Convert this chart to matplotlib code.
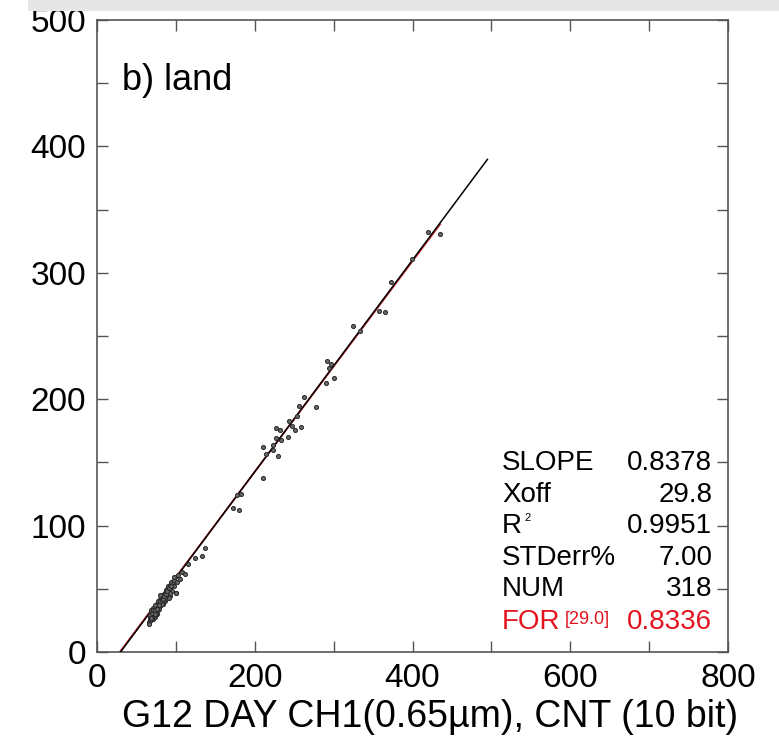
import matplotlib
matplotlib.use("Agg")
import matplotlib.pyplot as plt
from matplotlib.patches import Rectangle
import numpy as np

plt.rcParams['font.family'] = ['Liberation Sans', 'DejaVu Sans']

# ---- data ----
x_pts = [
    # dense cluster
    66, 67, 67, 68, 68, 69, 69, 70, 70, 71, 71, 72, 72, 73, 73, 74, 74, 75, 75, 76,
    76, 76, 77, 77, 78, 78, 79, 79, 80, 80, 81, 81, 82, 82, 83, 83, 84, 84, 85, 85,
    86, 86, 87, 88, 88, 89, 90, 90, 91, 92, 92, 93, 94, 95, 96, 97, 98, 99, 100, 101,
    67, 68, 70, 72, 74, 77, 79, 81, 84, 87, 69, 71, 73, 75, 78, 80, 83, 86, 89, 93,
    66, 68, 70, 71, 73, 74, 76, 78, 80, 82, 84, 85, 87, 89, 91, 94,
    # spread points
    103, 105, 108, 111, 116, 124, 133, 137, 91, 100, 97,
    172, 177, 180, 182, 210, 210, 214, 223, 223, 227, 227, 230, 232, 233, 242, 244,
    247, 251, 253, 256, 259, 263, 278, 290, 292, 294, 297, 301, 324, 334, 358, 365,
    373, 399, 420, 435,
]
y_pts = [
    24, 26, 28, 25, 30, 27, 31, 29, 33, 26, 31, 30, 34, 32, 28, 35, 31, 33, 36, 30,
    35, 38, 37, 33, 39, 36, 40, 35, 38, 42, 40, 37, 43, 39, 41, 45, 38, 44, 42, 46,
    40, 47, 44, 48, 42, 50, 46, 52, 49, 53, 44, 51, 55, 48, 54, 57, 52, 59, 47, 55,
    29, 32, 27, 35, 29, 40, 38, 44, 41, 49, 33, 35, 37, 31, 34, 45, 38, 43, 46, 47,
    22, 27, 31, 33, 30, 33, 34, 37, 40, 41, 42, 44, 46, 48, 51, 52,
    61, 58, 63, 62, 70, 74, 76, 82, 43, 47, 59,
    114, 124, 112, 125, 162, 138, 157, 164, 160, 177, 169, 155, 176, 168, 170, 183,
    179, 176, 187, 195, 178, 202, 194, 213, 230, 225, 228, 217, 258, 254, 270, 269,
    293, 311, 332, 331,
]

slope, xoff, r2, stderr, num = 0.8378, 29.8, 0.9951, 7.00, 318
for_off, for_slope = 29.0, 0.8336
line_xmax = 495
red_xmax = 435

x_ticks = [0, 200, 400, 600, 800]
y_ticks = [0, 100, 200, 300, 400, 500]

W, H = 779, 738
fig = plt.figure(figsize=(W / 100, H / 100), dpi=100)
ax = fig.add_axes([97 / W, 1 - 652 / H, 631 / W, 632 / H])

# regression lines
xr = np.array([for_off, red_xmax])
ax.plot(xr, for_slope * (xr - for_off), color='#d0202a', lw=1.3, zorder=2)
xb = np.array([xoff, line_xmax])
ax.plot(xb, slope * (xb - xoff), color='black', lw=1.1, zorder=3)

ax.scatter(x_pts, y_pts, s=8, facecolor='#707070', edgecolor='#2a2a2a',
           linewidths=0.8, zorder=4)

ax.set_xlim(0, 800)
ax.set_ylim(0, 500)
ax.set_xticks(x_ticks)
ax.set_yticks(y_ticks)
ax.set_xticks(np.arange(0, 801, 100), minor=True)
ax.set_yticks(np.arange(0, 501, 50), minor=True)
for which in ('major', 'minor'):
    ax.tick_params(which=which, direction='in', length=8, width=1.0,
                   color='#555555', top=True, right=True)
ax.tick_params(which='major', labelsize=24, pad=8)
for s in ax.spines.values():
    s.set_color('#555555')
    s.set_linewidth(1.2)

ax.set_xlabel('G12 DAY CH1(0.65µm), CNT (10 bit)', fontsize=27)
ax.xaxis.set_label_coords(0.528, -0.075)

ax.text(0.04, 0.905, 'b) land', transform=ax.transAxes, fontsize=26,
        ha='left', va='center')

# statistics block
fs = 20
x_lab, x_val = 0.642, 0.975
rows_y = [0.299, 0.249, 0.199, 0.149, 0.099, 0.048]
labels = ['SLOPE', 'Xoff', 'R', 'STDerr%', 'NUM']
values = [f'{slope:.4f}', f'{xoff:.1f}', f'{r2:.4f}', f'{stderr:.2f}', f'{num}']
for lab, val, yy in zip(labels, values, rows_y[:5]):
    ax.text(x_lab, yy, lab, transform=ax.transAxes, fontsize=fs,
            ha='left', va='center')
    ax.text(x_val, yy, val, transform=ax.transAxes, fontsize=fs,
            ha='right', va='center')
ax.text(x_lab + 0.035, rows_y[2] + 0.013, '2', transform=ax.transAxes,
        fontsize=8, ha='left', va='center')
red = '#e3141e'
ax.text(x_lab, rows_y[5], 'FOR', transform=ax.transAxes, fontsize=fs,
        ha='left', va='center', color=red)
ax.text(x_lab + 0.1, rows_y[5] + 0.003, f'[{for_off:.1f}]', transform=ax.transAxes,
        fontsize=13, ha='left', va='center', color=red)
ax.text(x_val, rows_y[5], f'{for_slope:.4f}', transform=ax.transAxes,
        fontsize=fs, ha='right', va='center', color=red)

# light grey band at the top edge of the image
band = Rectangle((28 / W, 1 - 11 / H), 1 - 28 / W, 11 / H, transform=fig.transFigure,
                 facecolor='#e6e6e6', edgecolor='none', zorder=10)
fig.add_artist(band)

fig.savefig('out.png', dpi=100)
